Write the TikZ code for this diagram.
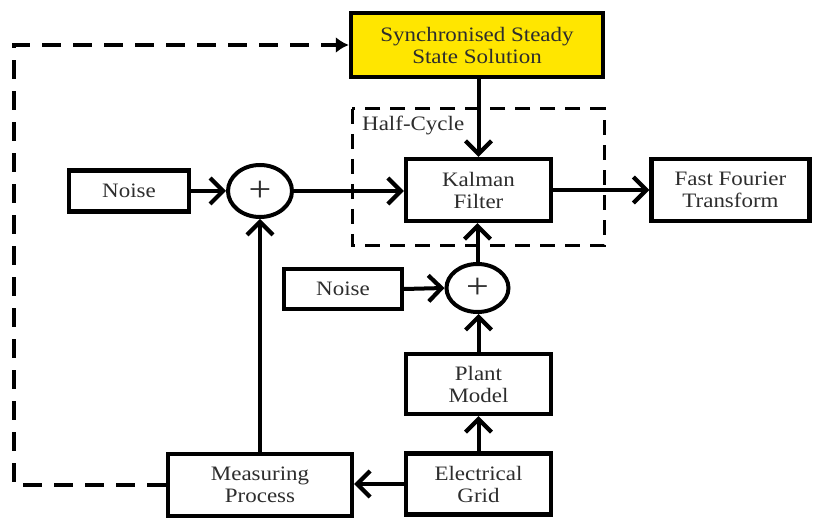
\documentclass[tikz,border=0pt]{standalone}
\usepackage{fontspec}
\setmainfont{Liberation Serif}[FakeStretch=1.12]
\usetikzlibrary{arrows.meta,shapes.geometric}
\definecolor{syncyellow}{RGB}{255,230,0}
\definecolor{txt}{RGB}{45,45,45}
\tikzset{
  blk/.style={draw, line width=4.4pt, align=center, inner sep=0pt,
    font=\fontsize{20.5}{22}\selectfont, text=txt},
  summer/.style={draw, ellipse, line width=4pt, inner sep=0pt,
    font=\fontsize{36}{36}\selectfont, text=txt},
  arr/.style={line width=4pt, -{Straight Barb[length=13pt,width=26pt,line width=4.2pt]}},
  fb/.style={line width=4.6pt, dash pattern=on 19pt off 12pt, -{Latex[length=13pt,width=16pt]}},
  halfbox/.style={draw, line width=3pt, dash pattern=on 15pt off 10pt}
}
\begin{document}
\begin{tikzpicture}[x=1pt,y=-1pt]
\useasboundingbox (0,0) rectangle (815,518);
% dashed half-cycle box
\draw[halfbox] (352,109) rectangle (604,246);
\node[anchor=north west, font=\fontsize{20.5}{22}\selectfont, text=txt, inner sep=0pt] (hc) at (362,116) {Half-Cycle};
% nodes
\node[blk, fill=syncyellow, minimum width=252pt, minimum height=64pt] (sync) at (477,45) {Synchronised Steady\\State Solution};
\node[blk, fill=white, minimum width=145pt, minimum height=62pt] (kal) at (478.5,190) {Kalman\\Filter};
\node[blk, minimum width=158pt, minimum height=62pt] (fft) at (730.5,190) {Fast Fourier\\Transform};
\node[blk, minimum width=120pt, minimum height=41pt] (n1) at (129,191) {Noise};
\node[summer, minimum width=64pt, minimum height=52pt] (s1) at (260,191) {+};
\node[blk, minimum width=118pt, minimum height=40pt] (n2) at (343,289) {Noise};
\node[summer, fill=white, minimum width=62pt, minimum height=48pt] (s2) at (477.5,288) {+};
\node[blk, minimum width=145pt, minimum height=60pt] (plant) at (478.5,384) {Plant\\Model};
\node[blk, minimum width=145pt, minimum height=61pt] (grid) at (478.5,484) {Electrical\\Grid};
\node[blk, minimum width=184pt, minimum height=62pt] (meas) at (260,485) {Measuring\\Process};
\coordinate (fbl) at (14,0);
% connectors
\draw[arr] (n1.east) -- (s1.west);
\draw[arr] (s1.east) -- (s1.east -| kal.west);
\draw[arr] (meas.north) -- (s1.south);
\draw[arr] (sync.south -| kal.north) -- (kal.north);
\draw[arr] (kal.east) -- (fft.west);
\draw[arr] (n2.east) -- (s2.west);
\draw[arr] (s2.north) -- (s2.north |- kal.south);
\draw[arr] (plant.north) -- (plant.north |- s2.south);
\draw[arr] (grid.north) -- (plant.south);
\draw[arr] (grid.west) -- (grid.west -| meas.east);
\draw[fb] (meas.west) -- (meas.west -| fbl) |- (sync.west);
\end{tikzpicture}
\end{document}
